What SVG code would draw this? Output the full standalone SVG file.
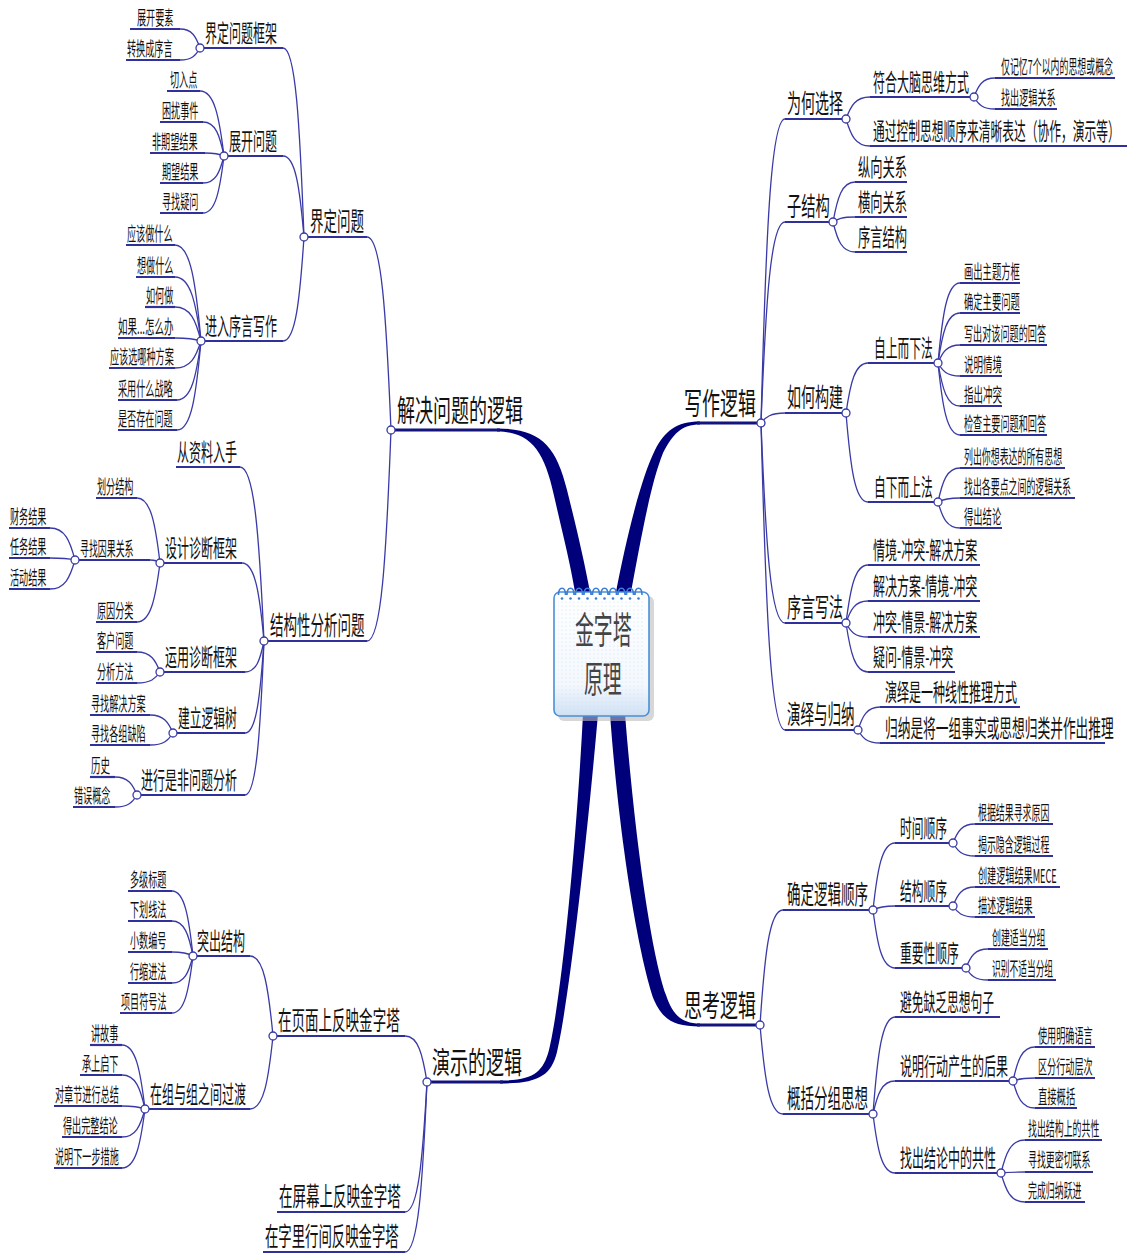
<svg xmlns="http://www.w3.org/2000/svg" width="1128" height="1255" viewBox="0 0 1128 1255">
<style>
text{font-family:"Noto Sans CJK SC","Noto Sans",sans-serif;fill:#111}
.t1{font-size:30px}
.t2{font-size:26px}
.t3{font-size:24px}
.t4{font-size:19px}
.ul{stroke:#30309a;stroke-width:2.2;fill:none}
.ul1{stroke:#14147e;stroke-width:3;fill:none}
.c{stroke:#3a3aa6;stroke-width:1.3;fill:none}
.trunk{fill:#00007a}
.dot{fill:#fff;stroke:#3a3aa6;stroke-width:1.3}
.ctr{font-size:37px;fill:#444}
</style>
<defs>
<pattern id="dots" width="4" height="4" patternUnits="userSpaceOnUse"><circle cx="2" cy="2" r="0.6" fill="#c9dcf2"/></pattern>
<linearGradient id="pad" x1="0" y1="0" x2="0" y2="1"><stop offset="0" stop-color="#ffffff"/><stop offset="0.75" stop-color="#f4f8fd"/><stop offset="1" stop-color="#cfe0f4"/></linearGradient>
</defs>
<rect width="1128" height="1255" fill="#fff"/>

<g id="connectors">
<path class="trunk" d="M497,428.5 C540,428.5 556,445 567,490 C577,530 584,560 590,592 L575,592 C570,562 563,535 555,500 C546,458 535,431.5 497,431.5 Z"/>
<path class="trunk" d="M616,592 C625,545 640,480 655,450 C665,431 676,421.5 700,421.5 L700,424.5 C681,424.5 673,434 663,453 C650,485 640,545 631,592 Z"/>
<path class="trunk" d="M583,714 C576,850 561,1000 549,1050 C543,1072 534,1080.5 500,1080.5 L500,1083.5 C538,1083.5 551,1076 557,1052 C569,1000 586,850 598,714 Z"/>
<path class="trunk" d="M625,714 C636,850 652,955 666,995 C672,1013 680,1023.5 700,1023.5 L700,1026.5 C672,1026.5 662,1018 654,1000 C640,960 620,850 610,714 Z"/>
<path class="c" d="M391,430 C386.2,314.2 381.4,237 367,237"/>
<path class="c" d="M391,430 C386.2,556.6 381.4,641 367,641"/>
<path class="c" d="M304,237 C299.8,123.6 295.6,48 283,48"/>
<path class="c" d="M304,237 C299.8,188.4 295.6,156 283,156"/>
<path class="c" d="M304,237 C299.8,299.4 295.6,341 283,341"/>
<path class="c" d="M200,48 C196,36.6 192,29 180,29"/>
<path class="c" d="M200,48 C196,55.2 192,60 180,60"/>
<path class="c" d="M224,156 C219.2,117 214.4,91 200,91"/>
<path class="c" d="M224,156 C219.8,135.6 215.6,122 203,122"/>
<path class="c" d="M224,156 C220.2,154.2 216.4,153 205,153"/>
<path class="c" d="M224,156 C219.8,172.2 215.6,183 203,183"/>
<path class="c" d="M224,156 C219.8,190.2 215.6,213 203,213"/>
<path class="c" d="M201,341 C195.8,283.4 190.6,245 175,245"/>
<path class="c" d="M201,341 C195.8,302.6 190.6,277 175,277"/>
<path class="c" d="M201,341 C195.8,320.6 190.6,307 175,307"/>
<path class="c" d="M201,341 C195.8,339.2 190.6,338 175,338"/>
<path class="c" d="M201,341 C195.8,357.2 190.6,368 175,368"/>
<path class="c" d="M201,341 C196.2,376.4 191.4,400 177,400"/>
<path class="c" d="M201,341 C196.2,394.4 191.4,430 177,430"/>
<path class="c" d="M264,641 C259.2,536.6 254.4,467 240,467"/>
<path class="c" d="M264,641 C259.6,594.2 255.2,563 242,563"/>
<path class="c" d="M264,641 C260.2,659.6 256.4,672 245,672"/>
<path class="c" d="M264,641 C260.2,696.2 256.4,733 245,733"/>
<path class="c" d="M264,641 C260.2,733.4 256.4,795 245,795"/>
<path class="c" d="M160,563 C155.4,524 150.8,498 137,498"/>
<path class="c" d="M160,563 C158,561 156,560 150,560"/>
<path class="c" d="M160,563 C155.4,598.4 150.8,622 137,622"/>
<path class="c" d="M75,560 C70,540.8 65,528 50,528"/>
<path class="c" d="M75,560 C70,558.8 65,558 50,558"/>
<path class="c" d="M75,560 C70,577.4 65,589 50,589"/>
<path class="c" d="M160,672 C155.4,660 150.8,652 137,652"/>
<path class="c" d="M160,672 C155.4,678.6 150.8,683 137,683"/>
<path class="c" d="M173,733 C168.4,722.2 163.8,715 150,715"/>
<path class="c" d="M173,733 C168.4,740.2 163.8,745 150,745"/>
<path class="c" d="M137,795 C132.6,784.2 128.2,777 115,777"/>
<path class="c" d="M137,795 C132.6,802.2 128.2,807 115,807"/>
<path class="c" d="M427,1082 C422.6,1054.4 418.2,1036 405,1036"/>
<path class="c" d="M427,1082 C422.6,1160 418.2,1212 405,1212"/>
<path class="c" d="M427,1082 C422.6,1184 418.2,1252 405,1252"/>
<path class="c" d="M273,1036 C268.4,988 263.8,956 250,956"/>
<path class="c" d="M273,1036 C268.4,1079.8 263.8,1109 250,1109"/>
<path class="c" d="M193,956 C188.8,917 184.6,891 172,891"/>
<path class="c" d="M193,956 C188.8,935 184.6,921 172,921"/>
<path class="c" d="M193,956 C188.8,953.6 184.6,952 172,952"/>
<path class="c" d="M193,956 C188.8,972.2 184.6,983 172,983"/>
<path class="c" d="M193,956 C188.8,990.2 184.6,1013 172,1013"/>
<path class="c" d="M145,1109 C140.4,1070.6 135.8,1045 122,1045"/>
<path class="c" d="M145,1109 C140.4,1088.6 135.8,1075 122,1075"/>
<path class="c" d="M145,1109 C140.4,1107.2 135.8,1106 122,1106"/>
<path class="c" d="M145,1109 C140.4,1125.8 135.8,1137 122,1137"/>
<path class="c" d="M145,1109 C140.4,1144.4 135.8,1168 122,1168"/>
<path class="c" d="M761,423 C765.8,240.6 770.6,119 785,119"/>
<path class="c" d="M761,423 C765.8,302.4 770.6,222 785,222"/>
<path class="c" d="M761,423 C765.8,417 770.6,413 785,413"/>
<path class="c" d="M761,423 C765.8,543 770.6,623 785,623"/>
<path class="c" d="M761,423 C765.8,607.2 770.6,730 785,730"/>
<path class="c" d="M846,119 C850.8,105.8 855.6,97 870,97"/>
<path class="c" d="M846,119 C850.8,135.2 855.6,146 870,146"/>
<path class="c" d="M974,97 C978.2,85.6 982.4,78 995,78"/>
<path class="c" d="M974,97 C978.2,104.2 982.4,109 995,109"/>
<path class="c" d="M833,222 C837.4,198 841.8,182 855,182"/>
<path class="c" d="M833,222 C837.4,219 841.8,217 855,217"/>
<path class="c" d="M833,222 C837.4,240 841.8,252 855,252"/>
<path class="c" d="M846,413 C850.4,383 854.8,363 868,363"/>
<path class="c" d="M846,413 C850.4,466.4 854.8,502 868,502"/>
<path class="c" d="M938,363 C942.4,315 946.8,283 960,283"/>
<path class="c" d="M938,363 C942.4,333 946.8,313 960,313"/>
<path class="c" d="M938,363 C942.4,352.2 946.8,345 960,345"/>
<path class="c" d="M938,363 C942.4,370.8 946.8,376 960,376"/>
<path class="c" d="M938,363 C942.4,388.8 946.8,406 960,406"/>
<path class="c" d="M938,363 C942.4,406.2 946.8,435 960,435"/>
<path class="c" d="M938,502 C942.4,481.6 946.8,468 960,468"/>
<path class="c" d="M938,502 C942.4,499.6 946.8,498 960,498"/>
<path class="c" d="M938,502 C942.4,517.6 946.8,528 960,528"/>
<path class="c" d="M846,623 C850.4,588.2 854.8,565 868,565"/>
<path class="c" d="M846,623 C850.4,609.8 854.8,601 868,601"/>
<path class="c" d="M846,623 C850.4,631.4 854.8,637 868,637"/>
<path class="c" d="M846,623 C850.4,652.4 854.8,672 868,672"/>
<path class="c" d="M858,730 C862.4,716.2 866.8,707 880,707"/>
<path class="c" d="M858,730 C862.4,737.8 866.8,743 880,743"/>
<path class="c" d="M760,1025 C764.6,956 769.2,910 783,910"/>
<path class="c" d="M760,1025 C764.6,1078.4 769.2,1114 783,1114"/>
<path class="c" d="M873,910 C877.4,869.8 881.8,843 895,843"/>
<path class="c" d="M873,910 C877.4,907.6 881.8,906 895,906"/>
<path class="c" d="M873,910 C877.4,944.8 881.8,968 895,968"/>
<path class="c" d="M953,843 C957.4,831.6 961.8,824 975,824"/>
<path class="c" d="M953,843 C957.4,850.8 961.8,856 975,856"/>
<path class="c" d="M953,906 C957.4,894.6 961.8,887 975,887"/>
<path class="c" d="M953,906 C957.4,912.6 961.8,917 975,917"/>
<path class="c" d="M966,968 C970.4,956.6 974.8,949 988,949"/>
<path class="c" d="M966,968 C970.4,975.2 974.8,980 988,980"/>
<path class="c" d="M873,1114 C877.4,1055.8 881.8,1017 895,1017"/>
<path class="c" d="M873,1114 C877.4,1094.2 881.8,1081 895,1081"/>
<path class="c" d="M873,1114 C877.4,1149.4 881.8,1173 895,1173"/>
<path class="c" d="M1013,1081 C1017.4,1060.6 1021.8,1047 1035,1047"/>
<path class="c" d="M1013,1081 C1017.4,1079.2 1021.8,1078 1035,1078"/>
<path class="c" d="M1013,1081 C1017.4,1097.2 1021.8,1108 1035,1108"/>
<path class="c" d="M1001,1173 C1005.8,1153.2 1010.6,1140 1025,1140"/>
<path class="c" d="M1001,1173 C1005.8,1172.4 1010.6,1172 1025,1172"/>
<path class="c" d="M1001,1173 C1005.8,1190.4 1010.6,1202 1025,1202"/>
</g>

<g id="center">
<rect x="558" y="596" width="96" height="125" rx="6" fill="#bdbdbd" opacity="0.6"/>
<rect x="554" y="592" width="95" height="124" rx="6" fill="url(#pad)" stroke="#4a8fd8" stroke-width="1.6"/>
<rect x="558" y="600" width="87" height="110" fill="url(#dots)"/>
<path d="M558.5,595 C558.5,586 565.5,586 565.5,595 M567,595 C567,586 574,586 574,595 M575.5,595 C575.5,586 582.5,586 582.5,595 M584,595 C584,586 591,586 591,595 M592.5,595 C592.5,586 599.5,586 599.5,595 M601,595 C601,586 608,586 608,595 M609.5,595 C609.5,586 616.5,586 616.5,595 M618,595 C618,586 625,586 625,595 M626.5,595 C626.5,586 633.5,586 633.5,595 M635,595 C635,586 642,586 642,595" fill="none" stroke="#3a7fd5" stroke-width="1.6"/>
<g fill="#3a7fd5"><circle cx="562" cy="598.5" r="1.3"/><circle cx="570.5" cy="598.5" r="1.3"/><circle cx="579" cy="598.5" r="1.3"/><circle cx="587.5" cy="598.5" r="1.3"/><circle cx="596" cy="598.5" r="1.3"/><circle cx="604.5" cy="598.5" r="1.3"/><circle cx="613" cy="598.5" r="1.3"/><circle cx="621.5" cy="598.5" r="1.3"/><circle cx="630" cy="598.5" r="1.3"/><circle cx="638.5" cy="598.5" r="1.3"/></g>
<text class="ctr" transform="translate(575,644) scale(.51,1)">金字塔</text>
<text class="ctr" transform="translate(584,693) scale(.51,1)">原理</text>
</g>

<g id="n-jjwtdlj"><path class="ul1" d="M392,430H500"/><circle class="dot" cx="391" cy="430" r="4"/><text class="t1" transform="translate(397,421) scale(.6,1)">解决问题的逻辑</text></g>
<g id="n-jdwt"><path class="ul" d="M305,237H367"/><circle class="dot" cx="304" cy="237" r="4"/><text class="t2" transform="translate(310,231) scale(.52,1)">界定问题</text></g>
<g id="n-jdwtkj"><path class="ul" d="M201,48H283"/><circle class="dot" cx="200" cy="48" r="4"/><text class="t3" transform="translate(205,42) scale(.5,1)">界定问题框架</text></g>
<g id="n-zkys"><path class="ul" d="M130,29H180"/><text class="t4" transform="translate(137,25) scale(.48,1)">展开要素</text></g>
<g id="n-zhcxy"><path class="ul" d="M126,60H180"/><text class="t4" transform="translate(127,56) scale(.48,1)">转换成序言</text></g>
<g id="n-zkwt"><path class="ul" d="M225,156H283"/><circle class="dot" cx="224" cy="156" r="4"/><text class="t3" transform="translate(229,150) scale(.5,1)">展开问题</text></g>
<g id="n-qrd"><path class="ul" d="M167,91H200"/><text class="t4" transform="translate(170,87) scale(.48,1)">切入点</text></g>
<g id="n-krsj"><path class="ul" d="M160,122H203"/><text class="t4" transform="translate(162,118) scale(.48,1)">困扰事件</text></g>
<g id="n-fqwjg"><path class="ul" d="M150,153H205"/><text class="t4" transform="translate(152,149) scale(.48,1)">非期望结果</text></g>
<g id="n-qwjg"><path class="ul" d="M160,183H203"/><text class="t4" transform="translate(162,179) scale(.48,1)">期望结果</text></g>
<g id="n-xzyw"><path class="ul" d="M160,213H203"/><text class="t4" transform="translate(162,209) scale(.48,1)">寻找疑问</text></g>
<g id="n-jrxyxz"><path class="ul" d="M202,341H283"/><circle class="dot" cx="201" cy="341" r="4"/><text class="t3" transform="translate(205,335) scale(.5,1)">进入序言写作</text></g>
<g id="n-ygzsm"><path class="ul" d="M126,245H175"/><text class="t4" transform="translate(127,241) scale(.48,1)">应该做什么</text></g>
<g id="n-xzsm"><path class="ul" d="M136,277H175"/><text class="t4" transform="translate(137,273) scale(.48,1)">想做什么</text></g>
<g id="n-rhz"><path class="ul" d="M145,307H175"/><text class="t4" transform="translate(146,303) scale(.48,1)">如何做</text></g>
<g id="n-rgzmb"><path class="ul" d="M118,338H175"/><text class="t4" transform="translate(118,334) scale(.5,1)">如果...怎么办</text></g>
<g id="n-ygxnzfa"><path class="ul" d="M109,368H175"/><text class="t4" transform="translate(110,364) scale(.48,1)">应该选哪种方案</text></g>
<g id="n-cysmzl"><path class="ul" d="M118,400H177"/><text class="t4" transform="translate(118,396) scale(.48,1)">采用什么战略</text></g>
<g id="n-sfczwt"><path class="ul" d="M118,430H177"/><text class="t4" transform="translate(118,426) scale(.48,1)">是否存在问题</text></g>
<g id="n-jgxfxwt"><path class="ul" d="M266,641H367"/><circle class="dot" cx="264" cy="641" r="4"/><text class="t2" transform="translate(270,635) scale(.52,1)">结构性分析问题</text></g>
<g id="n-czlrs"><path class="ul" d="M176,467H240"/><text class="t3" transform="translate(177,461) scale(.5,1)">从资料入手</text></g>
<g id="n-sjzdkj"><path class="ul" d="M162,563H242"/><circle class="dot" cx="160" cy="563" r="4"/><text class="t3" transform="translate(165,557) scale(.5,1)">设计诊断框架</text></g>
<g id="n-hfjg"><path class="ul" d="M96,498H137"/><text class="t4" transform="translate(97,494) scale(.48,1)">划分结构</text></g>
<g id="n-xzyggx"><path class="ul" d="M77,560H150"/><circle class="dot" cx="75" cy="560" r="4"/><text class="t4" transform="translate(80,556) scale(.47,1)">寻找因果关系</text></g>
<g id="n-cwjg"><path class="ul" d="M9,528H50"/><text class="t4" transform="translate(10,524) scale(.48,1)">财务结果</text></g>
<g id="n-rwjg"><path class="ul" d="M9,558H50"/><text class="t4" transform="translate(10,554) scale(.48,1)">任务结果</text></g>
<g id="n-hdjg"><path class="ul" d="M9,589H50"/><text class="t4" transform="translate(10,585) scale(.48,1)">活动结果</text></g>
<g id="n-yyfl"><path class="ul" d="M96,622H137"/><text class="t4" transform="translate(97,618) scale(.48,1)">原因分类</text></g>
<g id="n-yyzdkj"><path class="ul" d="M162,672H245"/><circle class="dot" cx="160" cy="672" r="4"/><text class="t3" transform="translate(165,666) scale(.5,1)">运用诊断框架</text></g>
<g id="n-khwt"><path class="ul" d="M96,652H137"/><text class="t4" transform="translate(97,648) scale(.48,1)">客户问题</text></g>
<g id="n-fxff"><path class="ul" d="M96,683H137"/><text class="t4" transform="translate(97,679) scale(.48,1)">分析方法</text></g>
<g id="n-jlljs"><path class="ul" d="M175,733H245"/><circle class="dot" cx="173" cy="733" r="4"/><text class="t3" transform="translate(178,727) scale(.49,1)">建立逻辑树</text></g>
<g id="n-xzjjfa"><path class="ul" d="M90,715H150"/><text class="t4" transform="translate(91,711) scale(.48,1)">寻找解决方案</text></g>
<g id="n-xzgzqx"><path class="ul" d="M90,745H150"/><text class="t4" transform="translate(91,741) scale(.48,1)">寻找各组缺陷</text></g>
<g id="n-jxsfwtfx"><path class="ul" d="M138,795H245"/><circle class="dot" cx="137" cy="795" r="4"/><text class="t3" transform="translate(141,789) scale(.5,1)">进行是非问题分析</text></g>
<g id="n-ls"><path class="ul" d="M90,777H115"/><text class="t4" transform="translate(91,773) scale(.5,1)">历史</text></g>
<g id="n-cwgn"><path class="ul" d="M73,807H115"/><text class="t4" transform="translate(74,803) scale(.48,1)">错误概念</text></g>

<g id="n-ysdlj"><path class="ul1" d="M428,1082H503"/><circle class="dot" cx="427" cy="1082" r="4"/><text class="t1" transform="translate(432,1073) scale(.6,1)">演示的逻辑</text></g>
<g id="n-zymsfy"><path class="ul" d="M275,1036H405"/><circle class="dot" cx="273" cy="1036" r="4"/><text class="t2" transform="translate(278,1030) scale(.52,1)">在页面上反映金字塔</text></g>
<g id="n-tcjg"><path class="ul" d="M195,956H250"/><circle class="dot" cx="193" cy="956" r="4"/><text class="t3" transform="translate(197,950) scale(.5,1)">突出结构</text></g>
<g id="n-djbt"><path class="ul" d="M128,891H172"/><text class="t4" transform="translate(130,887) scale(.48,1)">多级标题</text></g>
<g id="n-xhxf"><path class="ul" d="M128,921H172"/><text class="t4" transform="translate(130,917) scale(.48,1)">下划线法</text></g>
<g id="n-xsbh"><path class="ul" d="M128,952H172"/><text class="t4" transform="translate(130,948) scale(.48,1)">小数编号</text></g>
<g id="n-hsjf"><path class="ul" d="M128,983H172"/><text class="t4" transform="translate(130,979) scale(.48,1)">行缩进法</text></g>
<g id="n-xmfhf"><path class="ul" d="M120,1013H172"/><text class="t4" transform="translate(121,1009) scale(.48,1)">项目符号法</text></g>
<g id="n-zzyzzjgd"><path class="ul" d="M147,1109H250"/><circle class="dot" cx="145" cy="1109" r="4"/><text class="t3" transform="translate(150,1103) scale(.5,1)">在组与组之间过渡</text></g>
<g id="n-jgs"><path class="ul" d="M90,1045H122"/><text class="t4" transform="translate(91,1041) scale(.48,1)">讲故事</text></g>
<g id="n-csqx"><path class="ul" d="M80,1075H122"/><text class="t4" transform="translate(82,1071) scale(.48,1)">承上启下</text></g>
<g id="n-dzjjxzj"><path class="ul" d="M54,1106H122"/><text class="t4" transform="translate(55,1102) scale(.48,1)">对章节进行总结</text></g>
<g id="n-dcwzjl"><path class="ul" d="M62,1137H122"/><text class="t4" transform="translate(63,1133) scale(.48,1)">得出完整结论</text></g>
<g id="n-smxybcs"><path class="ul" d="M54,1168H122"/><text class="t4" transform="translate(55,1164) scale(.48,1)">说明下一步措施</text></g>
<g id="n-zpmsfy"><path class="ul" d="M277,1212H405"/><text class="t2" transform="translate(279,1206) scale(.52,1)">在屏幕上反映金字塔</text></g>
<g id="n-zzlhjfy"><path class="ul" d="M263,1252H405"/><text class="t2" transform="translate(265,1246) scale(.515,1)">在字里行间反映金字塔</text></g>

<g id="n-xzlj"><path class="ul1" d="M697,423H757"/><circle class="dot" cx="761" cy="423" r="4"/><text class="t1" transform="translate(684,414) scale(.6,1)">写作逻辑</text></g>
<g id="n-whxz"><path class="ul" d="M785,119H845"/><circle class="dot" cx="846" cy="119" r="4"/><text class="t2" transform="translate(787,113) scale(.54,1)">为何选择</text></g>
<g id="n-fhdnsw"><path class="ul" d="M870,97H972"/><circle class="dot" cx="974" cy="97" r="4"/><text class="t3" transform="translate(873,91) scale(.5,1)">符合大脑思维方式</text></g>
<g id="n-jjy7"><path class="ul" d="M995,78H1115"/><text class="t4" transform="translate(1001,74) scale(.47,1)">仅记忆7个以内的思想或概念</text></g>
<g id="n-zcljgx"><path class="ul" d="M995,109H1057"/><text class="t4" transform="translate(1001,105) scale(.48,1)">找出逻辑关系</text></g>
<g id="n-tgkzsx"><path class="ul" d="M870,146H1127"/><text class="t3" transform="translate(873,140) scale(.49,1)">通过控制思想顺序来清晰表达（协作，演示等）</text></g>
<g id="n-zjg"><path class="ul" d="M785,222H832"/><circle class="dot" cx="833" cy="222" r="4"/><text class="t2" transform="translate(787,216) scale(.55,1)">子结构</text></g>
<g id="n-zxgx"><path class="ul" d="M855,182H907"/><text class="t3" transform="translate(858,176) scale(.51,1)">纵向关系</text></g>
<g id="n-hxgx"><path class="ul" d="M855,217H907"/><text class="t3" transform="translate(858,211) scale(.51,1)">横向关系</text></g>
<g id="n-xyjg"><path class="ul" d="M855,252H907"/><text class="t3" transform="translate(858,246) scale(.51,1)">序言结构</text></g>
<g id="n-rhgj"><path class="ul" d="M785,413H845"/><circle class="dot" cx="846" cy="413" r="4"/><text class="t2" transform="translate(787,407) scale(.54,1)">如何构建</text></g>
<g id="n-zsexf"><path class="ul" d="M868,363H937"/><circle class="dot" cx="938" cy="363" r="4"/><text class="t3" transform="translate(874,357) scale(.49,1)">自上而下法</text></g>
<g id="n-hcztfk"><path class="ul" d="M960,283H1020"/><text class="t4" transform="translate(964,279) scale(.49,1)">画出主题方框</text></g>
<g id="n-qdzywt"><path class="ul" d="M960,313H1020"/><text class="t4" transform="translate(964,309) scale(.49,1)">确定主要问题</text></g>
<g id="n-xcdgwt"><path class="ul" d="M960,345H1047"/><text class="t4" transform="translate(964,341) scale(.48,1)">写出对该问题的回答</text></g>
<g id="n-smqj"><path class="ul" d="M960,376H1002"/><text class="t4" transform="translate(964,372) scale(.5,1)">说明情境</text></g>
<g id="n-zcct"><path class="ul" d="M960,406H1002"/><text class="t4" transform="translate(964,402) scale(.5,1)">指出冲突</text></g>
<g id="n-jczywt"><path class="ul" d="M960,435H1047"/><text class="t4" transform="translate(964,431) scale(.48,1)">检查主要问题和回答</text></g>
<g id="n-zxesf"><path class="ul" d="M868,502H937"/><circle class="dot" cx="938" cy="502" r="4"/><text class="t3" transform="translate(874,496) scale(.49,1)">自下而上法</text></g>
<g id="n-lcnxbd"><path class="ul" d="M960,468H1065"/><text class="t4" transform="translate(964,464) scale(.47,1)">列出你想表达的所有思想</text></g>
<g id="n-zcgydzj"><path class="ul" d="M960,498H1075"/><text class="t4" transform="translate(964,494) scale(.47,1)">找出各要点之间的逻辑关系</text></g>
<g id="n-dcjl"><path class="ul" d="M960,528H1002"/><text class="t4" transform="translate(964,524) scale(.49,1)">得出结论</text></g>
<g id="n-xyxf"><path class="ul" d="M785,623H845"/><circle class="dot" cx="846" cy="623" r="4"/><text class="t2" transform="translate(787,617) scale(.54,1)">序言写法</text></g>
<g id="n-qj-ct-jj"><path class="ul" d="M868,565H980"/><text class="t3" transform="translate(873,559) scale(.5,1)">情境-冲突-解决方案</text></g>
<g id="n-jj-qj-ct"><path class="ul" d="M868,601H980"/><text class="t3" transform="translate(873,595) scale(.5,1)">解决方案-情境-冲突</text></g>
<g id="n-ct-qj-jj"><path class="ul" d="M868,637H980"/><text class="t3" transform="translate(873,631) scale(.5,1)">冲突-情景-解决方案</text></g>
<g id="n-yw-qj-ct"><path class="ul" d="M868,672H955"/><text class="t3" transform="translate(873,666) scale(.5,1)">疑问-情景-冲突</text></g>
<g id="n-yyygn"><path class="ul" d="M785,730H857"/><circle class="dot" cx="858" cy="730" r="4"/><text class="t2" transform="translate(787,724) scale(.52,1)">演绎与归纳</text></g>
<g id="n-yysyz"><path class="ul" d="M880,707H1020"/><text class="t3" transform="translate(885,701) scale(.5,1)">演绎是一种线性推理方式</text></g>
<g id="n-gnsjyz"><path class="ul" d="M880,743H1105"/><text class="t3" transform="translate(885,737) scale(.53,1)">归纳是将一组事实或思想归类并作出推理</text></g>

<g id="n-sklj"><path class="ul1" d="M697,1025H757"/><circle class="dot" cx="760" cy="1025" r="4"/><text class="t1" transform="translate(684,1016) scale(.6,1)">思考逻辑</text></g>
<g id="n-qdljsx"><path class="ul" d="M783,910H872"/><circle class="dot" cx="873" cy="910" r="4"/><text class="t2" transform="translate(787,904) scale(.52,1)">确定逻辑顺序</text></g>
<g id="n-sjsx"><path class="ul" d="M895,843H952"/><circle class="dot" cx="953" cy="843" r="4"/><text class="t3" transform="translate(900,837) scale(.49,1)">时间顺序</text></g>
<g id="n-gjjgxqyy"><path class="ul" d="M975,824H1053"/><text class="t4" transform="translate(978,820) scale(.47,1)">根据结果寻求原因</text></g>
<g id="n-jsyhlj"><path class="ul" d="M975,856H1053"/><text class="t4" transform="translate(978,852) scale(.47,1)">揭示隐含逻辑过程</text></g>
<g id="n-jgsx"><path class="ul" d="M895,906H952"/><circle class="dot" cx="953" cy="906" r="4"/><text class="t3" transform="translate(900,900) scale(.49,1)">结构顺序</text></g>
<g id="n-cjljmece"><path class="ul" d="M975,887H1060"/><text class="t4" transform="translate(978,883) scale(.48,1)">创建逻辑结果MECE</text></g>
<g id="n-msljjg"><path class="ul" d="M975,917H1035"/><text class="t4" transform="translate(978,913) scale(.48,1)">描述逻辑结果</text></g>
<g id="n-zyxsx"><path class="ul" d="M895,968H965"/><circle class="dot" cx="966" cy="968" r="4"/><text class="t3" transform="translate(900,962) scale(.49,1)">重要性顺序</text></g>
<g id="n-cjsdfz"><path class="ul" d="M988,949H1048"/><text class="t4" transform="translate(992,945) scale(.47,1)">创建适当分组</text></g>
<g id="n-sbbsdfz"><path class="ul" d="M988,980H1056"/><text class="t4" transform="translate(992,976) scale(.46,1)">识别不适当分组</text></g>
<g id="n-gkfzsx"><path class="ul" d="M783,1114H872"/><circle class="dot" cx="873" cy="1114" r="4"/><text class="t2" transform="translate(787,1108) scale(.52,1)">概括分组思想</text></g>
<g id="n-bmqfsx"><path class="ul" d="M895,1017H1000"/><text class="t3" transform="translate(900,1011) scale(.49,1)">避免缺乏思想句子</text></g>
<g id="n-smxdcs"><path class="ul" d="M895,1081H1012"/><circle class="dot" cx="1013" cy="1081" r="4"/><text class="t3" transform="translate(900,1075) scale(.5,1)">说明行动产生的后果</text></g>
<g id="n-syqmyy"><path class="ul" d="M1035,1047H1095"/><text class="t4" transform="translate(1038,1043) scale(.48,1)">使用明确语言</text></g>
<g id="n-qfxdcc"><path class="ul" d="M1035,1078H1095"/><text class="t4" transform="translate(1038,1074) scale(.48,1)">区分行动层次</text></g>
<g id="n-zjgk"><path class="ul" d="M1035,1108H1077"/><text class="t4" transform="translate(1038,1104) scale(.49,1)">直接概括</text></g>
<g id="n-zcjlzgx"><path class="ul" d="M895,1173H1000"/><circle class="dot" cx="1001" cy="1173" r="4"/><text class="t3" transform="translate(900,1167) scale(.5,1)">找出结论中的共性</text></g>
<g id="n-zcjgsgx"><path class="ul" d="M1025,1140H1102"/><text class="t4" transform="translate(1028,1136) scale(.47,1)">找出结构上的共性</text></g>
<g id="n-xzgmqlx"><path class="ul" d="M1025,1172H1093"/><text class="t4" transform="translate(1028,1167) scale(.47,1)">寻找更密切联系</text></g>
<g id="n-wcgnyj"><path class="ul" d="M1025,1202H1085"/><text class="t4" transform="translate(1028,1198) scale(.47,1)">完成归纳跃进</text></g>
</svg>
